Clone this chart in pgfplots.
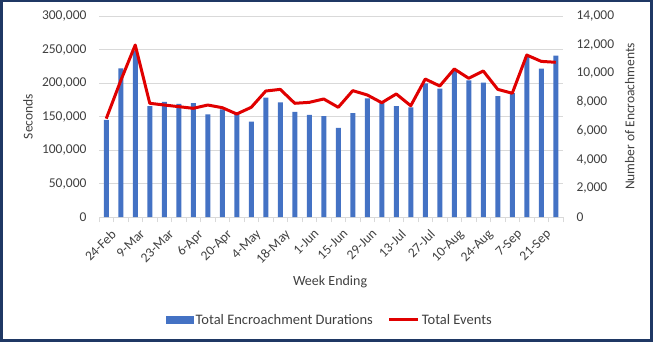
\documentclass[border=0pt]{standalone}
\usepackage{pgfplots}
\pgfplotsset{compat=1.18}
\usepackage{fontspec}
\setmainfont{Carlito}
\definecolor{barblue}{HTML}{4472C4}
\definecolor{linered}{HTML}{E00000}
\definecolor{framenavy}{HTML}{1F3864}
\definecolor{gridgray}{HTML}{D9D9D9}
\definecolor{txt}{HTML}{404040}
\begin{document}
\begin{tikzpicture}[font=\fontsize{13.5}{16}\selectfont]
\useasboundingbox (0,0) rectangle (656pt,354pt);
\draw[framenavy, line width=2.5pt] (1.25pt,13.5pt) rectangle (651.5pt,352.75pt);
\begin{axis}[
  at={(99pt,137pt)}, anchor=south west,
  width=464pt, height=201pt, scale only axis,
  xmin=-0.5, xmax=31.5, ymin=0, ymax=300000,
  ytick={0,50000,...,300000},
  scaled y ticks=false,
  /pgf/number format/fixed,
  /pgf/number format/1000 sep={,},
  /pgf/number format/assume math mode=true,
  axis x line*=bottom, axis y line*=left,
  y axis line style={draw=none},
  x axis line style={gridgray, line width=0.75pt},
  ymajorgrids, major grid style={gridgray, line width=0.75pt},
  major tick length=0pt, minor tick length=5pt, tick align=outside,
  minor xtick={-0.5,0.5,...,31.5},
  minor x tick style={gridgray, line width=0.75pt},
  xtick={0,2,...,30},
  xticklabels={24-Feb,9-Mar,23-Mar,6-Apr,20-Apr,4-May,18-May,1-Jun,15-Jun,29-Jun,13-Jul,27-Jul,10-Aug,24-Aug,7-Sep,21-Sep},
  xticklabel style={xshift=4pt, yshift=-10pt, rotate=45, anchor=north east, inner sep=1pt},
  yticklabel style={xshift=-9pt},
  tick label style={text=txt},
  label style={text=txt},
  ylabel={Seconds},
  ylabel style={at={(axis description cs:-0.153,0.5)}, anchor=center},
  xlabel={Week Ending},
  xlabel style={at={(axis description cs:0.498,-0.323)}, anchor=center, font=\fontsize{14}{16}\selectfont},
]
\addplot[ybar, bar width=5pt, fill=barblue, draw=none] coordinates {
(0,145000) (1,222000) (2,248000) (3,165500) (4,172000) (5,169000) (6,170000) (7,153000)
(8,160500) (9,154000) (10,142500) (11,178000) (12,171000) (13,157000) (14,152500) (15,150500)
(16,133000) (17,155000) (18,177000) (19,170500) (20,165500) (21,163500) (22,199500) (23,191500)
(24,218000) (25,204000) (26,200500) (27,180500) (28,185000) (29,239000) (30,221500) (31,241000)
};
\end{axis}
\begin{axis}[
  at={(99pt,137pt)}, anchor=south west,
  width=464pt, height=201pt, scale only axis,
  xmin=-0.5, xmax=31.5, ymin=0, ymax=14000,
  ytick={0,2000,...,14000},
  scaled y ticks=false,
  /pgf/number format/fixed,
  /pgf/number format/1000 sep={,},
  /pgf/number format/assume math mode=true,
  axis x line=none, axis y line*=right,
  y axis line style={draw=none},
  major tick length=0pt,
  yticklabel style={xshift=10pt},
  tick label style={text=txt},
  label style={text=txt},
  ylabel={Number of Encroachments},
  ylabel style={at={(axis description cs:1.144,0.5)}, anchor=center},
  legend style={at={(0.498,-0.512)}, anchor=center, draw=none, fill=none,
    legend columns=2, text=txt, font=\fontsize{14.5}{16}\selectfont,
    /tikz/every even column/.append style={column sep=13pt}},
]
\addlegendimage{legend image code/.code={\fill[barblue] (0pt,-3.5pt) rectangle (27pt,3.5pt);}}
\addlegendentry{Total Encroachment Durations}
\addplot[linered, line width=3pt, line join=round, mark=none,
  legend image code/.code={\draw[linered, line width=3pt] (0pt,0pt) -- (29pt,0pt);}] coordinates {
(0,6850) (1,9500) (2,11980) (3,7920) (4,7800) (5,7685) (6,7570) (7,7800)
(8,7615) (9,7175) (10,7640) (11,8775) (12,8890) (13,7920) (14,7985) (15,8220)
(16,7640) (17,8800) (18,8500) (19,7960) (20,8570) (21,7750) (22,9610) (23,9125)
(24,10310) (25,9660) (26,10170) (27,8890) (28,8620) (29,11280) (30,10840) (31,10775)
};
\addlegendentry{Total Events}
\end{axis}
\end{tikzpicture}
\end{document}
